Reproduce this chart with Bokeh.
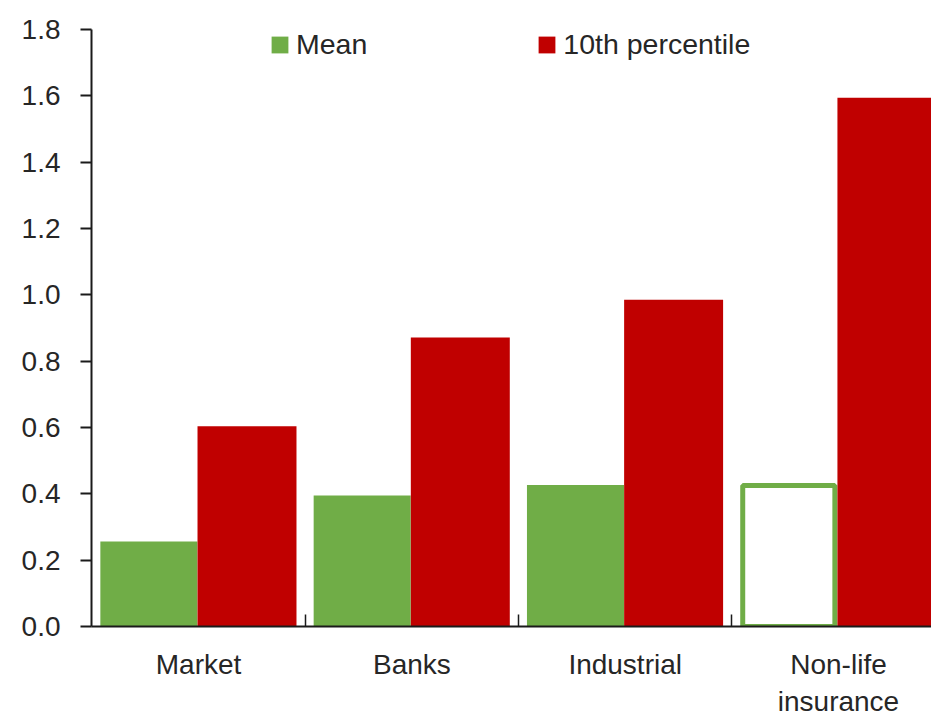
from bokeh.plotting import figure
from bokeh.models import Range1d, FixedTicker, Legend, LegendItem, ColumnDataSource
from bokeh.embed import file_html
from bokeh.resources import INLINE

categories = ["Market", "Banks", "Industrial", "Non-life\ninsurance"]
mean_vals = [0.256, 0.395, 0.427, 0.425]
p10_vals = [0.604, 0.871, 0.985, 1.594]
mean_hollow = [False, False, False, True]
y_ticks = [0.0, 0.2, 0.4, 0.6, 0.8, 1.0, 1.2, 1.4, 1.6, 1.8]
y_tick_labels = ["0.0", "0.2", "0.4", "0.6", "0.8", "1.0", "1.2", "1.4", "1.6", "1.8"]

GREEN = "#70AD47"
RED = "#C00000"
FONT = "Liberation Sans"
TXT = "#262626"
AX = "#1a1a1a"

idx = list(range(len(categories)))
src_mean = ColumnDataSource(dict(
    x=[i + 0.267 for i in idx],
    top=mean_vals,
    w=[0.432 if h else 0.455 for h in mean_hollow],
    fill=["white" if h else GREEN for h in mean_hollow],
    lalpha=[1.0 if h else 0.0 for h in mean_hollow],
))
src_p10 = ColumnDataSource(dict(x=[i + 0.727 for i in idx], top=p10_vals))

p = figure(width=931, height=720,
           x_range=Range1d(-0.002, 3.936), y_range=Range1d(0, 1.8),
           min_border_left=91, min_border_right=0, min_border_top=29, min_border_bottom=94,
           output_backend="svg", toolbar_location=None)
p.background_fill_color = "white"
p.border_fill_color = "white"
p.outline_line_color = None
p.xgrid.visible = False
p.ygrid.visible = False

r_mean = p.vbar(x="x", top="top", bottom=0, width="w", source=src_mean,
                fill_color="fill", line_color=GREEN, line_width=5, line_alpha="lalpha")
r_p10 = p.vbar(x="x", top="top", bottom=0, width=0.464, source=src_p10,
               fill_color=RED, line_color=None)

# x axis
xa = p.xaxis[0]
xa.ticker = FixedTicker(ticks=[i + 0.5 for i in idx], minor_ticks=[i for i in idx[1:]])
xa.major_label_overrides = {i + 0.5: c for i, c in zip(idx, categories)}
xa.major_tick_in = 0
xa.major_tick_out = 0
xa.minor_tick_in = 12
xa.minor_tick_out = 0
xa.minor_tick_line_color = AX
xa.minor_tick_line_width = 1.5
xa.axis_line_color = AX
xa.axis_line_width = 2
xa.major_label_standoff = 22
xa.major_label_text_font = FONT
xa.major_label_text_font_size = "28px"
xa.major_label_text_color = TXT

# y axis
ya = p.yaxis[0]
ya.ticker = FixedTicker(ticks=y_ticks)
ya.major_label_overrides = {t: l for t, l in zip(y_ticks, y_tick_labels)}
ya.major_tick_in = 0
ya.major_tick_out = 11
ya.major_tick_line_width = 2
ya.major_tick_line_color = AX
ya.minor_tick_line_color = None
ya.axis_line_color = AX
ya.axis_line_width = 2
ya.major_label_standoff = 20
ya.major_label_text_font = FONT
ya.major_label_text_font_size = "28px"
ya.major_label_text_color = TXT

legend = Legend(items=[LegendItem(label="Mean", renderers=[r_mean]),
                       LegendItem(label="10th percentile", renderers=[r_p10])],
                orientation="horizontal", location=(178, 565),
                padding=0, margin=0, spacing=169, label_standoff=6,
                glyph_width=21, glyph_height=21, label_height=34,
                border_line_color=None, background_fill_alpha=0,
                label_text_font=FONT, label_text_font_size="28.5px", label_text_color=TXT)
p.add_layout(legend, "center")

open("out.html", "w").write(file_html(p, INLINE))
